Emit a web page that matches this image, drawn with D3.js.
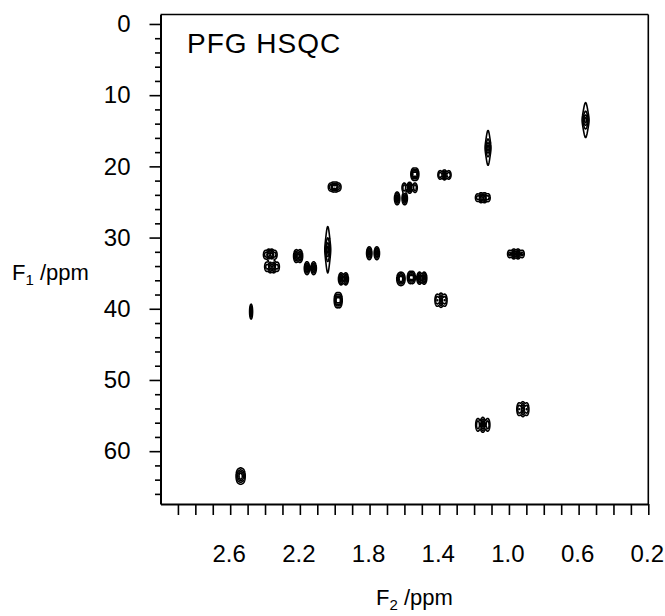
<!DOCTYPE html>
<html>
<head>
<meta charset="utf-8">
<script src="https://cdn.jsdelivr.net/npm/d3@7"></script>
<style>
body { margin: 0; background: #fff; }
svg text { font-family: "Liberation Sans", Arial, Helvetica, sans-serif; fill: #000; }
</style>
</head>
<body>
<div id="chart"></div>
<script>
// cross peaks: F2 (1H) and F1 (13C) shifts in ppm
var peakF2 = [2.54, 2.48, 2.37, 2.36, 2.21, 2.14, 2.04, 1.95, 1.98, 2.00,
    1.54, 1.57, 1.62, 1.37, 1.15, 1.78, 1.12, 0.56, 1.62, 1.56, 1.50, 1.39, 0.96, 0.92, 1.15];
var peakF1 = [63.5, 40.4, 32.4, 34.1, 32.6, 34.3, 31.7, 35.8, 38.8, 22.9,
    21.1, 23.0, 24.5, 21.2, 24.4, 32.2, 17.4, 13.5, 35.8, 35.6, 35.7, 38.8, 32.3, 54.1, 56.3];
// multiplet lines seen along F2
var peakLines = [3, 1, 4, 4, 2, 2, 1, 2, 2, 4,
    2, 3, 2, 3, 4, 2, 1, 1, 3, 2, 2, 3, 4, 3, 3];
// outer contour extent (ppm)
var peakWidthF2 = [0.057, 0.017, 0.086, 0.092, 0.052, 0.069, 0.034, 0.057, 0.046, 0.080,
    0.046, 0.092, 0.074, 0.080, 0.092, 0.074, 0.034, 0.040, 0.052, 0.046, 0.057, 0.074, 0.103, 0.074, 0.086];
var peakWidthF1 = [2.25, 2.1, 1.55, 1.7, 1.8, 1.8, 6.5, 1.7, 2.1, 1.4,
    1.7, 1.55, 1.8, 1.4, 1.4, 1.8, 4.9, 4.9, 1.8, 1.7, 1.7, 2.0, 1.4, 2.1, 2.1];
var peakShapeF1 = ["G", "G", "G", "G", "G", "G", "L", "G", "G", "G",
    "G", "G", "G", "G", "G", "G", "L", "L", "G", "G", "G", "G", "G", "G", "G"];

var yTicks = [0, 10, 20, 30, 40, 50, 60];
var xTickLabels = [2.6, 2.2, 1.8, 1.4, 1.0, 0.6, 0.2];

var margin = {top: 14.5, left: 160.5},
    w = 665,
    h = 616;
var width = 487.8,
    height = 489.5;

var xScale = d3.scaleLinear().domain([3.0, 0.2]).range([0, width]);
var yScale = d3.scaleLinear().domain([-1.33, 67.42]).range([0, height]);

var svg = d3.select("#chart").append("svg")
    .attr("width", w)
    .attr("height", h);

var g = svg.append("g").attr("transform", "translate(" + margin.left + "," + margin.top + ")");

// build a small synthetic spectrum from the peak list and contour it
var gx = 0.0015, gy = 0.06;
var x0 = 3.0, y0 = -1.33;
var nx = Math.ceil(2.8 / gx), ny = Math.ceil(68.75 / gy);
var grid = new Float64Array(nx * ny);
var levels = [0.08, 0.25, 0.5, 0.8];
var k = Math.sqrt(2 * Math.log(1 / levels[0]));

function binom(n) {
  var row = [1];
  for (var i = 1; i < n; i++) {
    var next = [1];
    for (var j = 1; j < i; j++) next.push(row[j - 1] + row[j]);
    next.push(1);
    row = next;
  }
  var m = d3.max(row);
  return row.map(function(v) { return v / m; });
}

peakF2.forEach(function(c2, p) {
  var n = peakLines[p], w2 = peakWidthF2[p], w1 = peakWidthF1[p];
  var sx, spacing = 0;
  if (n == 1) sx = w2 / 2 / k;
  else {
    sx = 0.0068;
    spacing = Math.max(0, w2 - 2 * k * sx) / (n - 1);
  }
  var weights = binom(n);
  var lor = peakShapeF1[p] == "L";
  var sy = lor ? (w1 / 2) / Math.sqrt(1 / levels[0] - 1) : w1 / 2 / k;
  var c1 = peakF1[p];
  var reachY = lor ? 12 * sy : 5 * sy;
  var j0 = Math.max(0, Math.floor((c1 - reachY - y0) / gy)),
      j1 = Math.min(ny - 1, Math.ceil((c1 + reachY - y0) / gy));
  weights.forEach(function(a, li) {
    var cx = c2 + (li - (n - 1) / 2) * spacing;
    var i0 = Math.max(0, Math.floor((x0 - cx - 5 * sx) / gx)),
        i1 = Math.min(nx - 1, Math.ceil((x0 - cx + 5 * sx) / gx));
    for (var j = j0; j <= j1; j++) {
      var dy = (y0 + j * gy - c1) / sy;
      var fy = lor ? 1 / (1 + dy * dy) : Math.exp(-0.5 * dy * dy);
      for (var i = i0; i <= i1; i++) {
        var dx = (x0 - i * gx - cx) / sx;
        grid[j * nx + i] += a * fy * Math.exp(-0.5 * dx * dx);
      }
    }
  });
});

var contours = d3.contours().size([nx, ny]).thresholds(levels)(grid);

var proj = d3.geoTransform({
  point: function(px, py) {
    this.stream.point(xScale(x0 - (px - 0.5) * gx), yScale(y0 + (py - 0.5) * gy));
  }
});
var path = d3.geoPath(proj);

g.append("g").selectAll("path")
    .data(contours)
  .join("path")
    .attr("d", path)
    .attr("fill", "none")
    .attr("stroke", "#000")
    .attr("stroke-width", 1.6)
    .attr("stroke-linejoin", "round");

// frame top and right
g.append("line")
    .attr("x1", 0).attr("x2", width)
    .attr("y1", 0).attr("y2", 0)
    .attr("stroke", "#000").attr("stroke-width", 1.6);
g.append("line")
    .attr("x1", width).attr("x2", width)
    .attr("y1", 0).attr("y2", height)
    .attr("stroke", "#000").attr("stroke-width", 1.6);

// y axis
var yAxis = g.append("g")
    .call(d3.axisLeft(yScale).tickValues(yTicks).tickSize(11).tickSizeOuter(0).tickPadding(19));
g.append("g")
    .call(d3.axisLeft(yScale).tickValues(d3.range(2, 67, 2).filter(function(d) { return d % 10; }))
      .tickSize(5.5).tickFormat(""))
    .select(".domain").remove();

// x axis
var xMinor = d3.range(29, 1, -1).map(function(d) { return d / 10; });
var xAxis = g.append("g")
    .attr("transform", "translate(0," + height + ")")
    .call(d3.axisBottom(xScale).tickValues(xMinor).tickSize(11).tickSizeOuter(0)
      .tickFormat(function(d) {
        return xTickLabels.some(function(v) { return Math.abs(v - d) < 1e-6; }) ? d3.format(".1f")(d) : "";
      }));
xAxis.selectAll("text").attr("y", 57.5).attr("dy", 0).attr("dx", -1.5);

svg.selectAll(".domain").attr("stroke-width", 2);
svg.selectAll(".tick line").attr("stroke-width", 1.6);
svg.selectAll(".tick text").attr("font-size", 24).attr("font-family", null);

// labels
svg.append("text")
    .attr("x", 187).attr("y", 53)
    .attr("font-size", 28)
    .attr("letter-spacing", 1)
    .text("PFG HSQC");

var ylab = svg.append("text").attr("x", 12).attr("y", 280).attr("font-size", 22);
ylab.append("tspan").text("F");
ylab.append("tspan").attr("font-size", 15).attr("dy", 5).text("1");
ylab.append("tspan").attr("dy", -5).text(" /ppm");

var xlab = svg.append("text").attr("x", 376).attr("y", 605).attr("font-size", 22);
xlab.append("tspan").text("F");
xlab.append("tspan").attr("font-size", 15).attr("dy", 5).text("2");
xlab.append("tspan").attr("dy", -5).text(" /ppm");
</script>
</body>
</html>
